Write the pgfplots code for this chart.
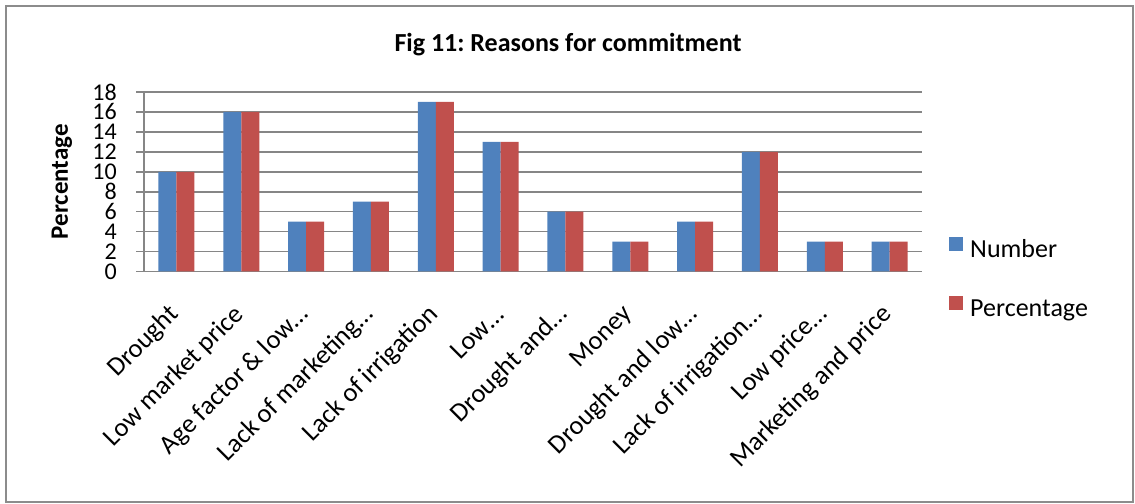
\documentclass[border=0pt]{standalone}
\usepackage{fontspec}
\setmainfont{Carlito}
\usepackage{pgfplots}
\pgfplotsset{compat=1.18}

\definecolor{numBlue}{HTML}{4F81BD}
\definecolor{pctRed}{HTML}{C0504D}
\definecolor{gridGray}{HTML}{868686}
\definecolor{frameGray}{HTML}{8C8C8C}

\newcommand{\fsz}[1]{\fontsize{#1bp}{1.2\dimexpr #1bp\relax}\selectfont}
\frenchspacing

\begin{document}
\begin{tikzpicture}[x=1bp,y=1bp]
  \path[use as bounding box] (0,0) rectangle (1135,504);
  \draw[frameGray, line width=2bp] (6,1.5) rectangle (1133,498);
  \node[font=\fsz{26}\bfseries] at (568,459) {Fig 11: Reasons for commitment};

  \begin{axis}[
    at={(144bp,232.5bp)}, anchor=south west,
    scale only axis, width=778bp, height=179.5bp,
    ybar=0pt, bar width=18bp,
    xmin=-0.5, xmax=11.5, ymin=0, ymax=18,
    ytick={0,2,...,18},
    xtick=data,
    xticklabels={Drought, Low market price, Age factor \& low…, Lack of marketing…,
      Lack of irrigation, Low…, Drought and…, Money, Drought and low…,
      Lack of irrigation…, Low price…, Marketing and price},
    axis lines*=left,
    axis line style={gridGray, line width=1.6bp},
    ymajorgrids, grid style={gridGray, line width=1.6bp},
    major tick length=8bp,
    ytick style={gridGray, line width=1.6bp},
    tick align=outside,
    x tick style={draw=none},
    /pgf/number format/assume math mode=true,
    yticklabel style={font=\fsz{24}, inner sep=0pt, anchor=east, xshift=-19bp},
    xticklabel style={font=\fsz{26.5}, inner sep=0pt, rotate=45, anchor=east,
      xshift=-23bp, yshift=-21bp},
    ylabel={Percentage},
    every axis y label/.style={at={(axis description cs:-0.1054,0.5)},
      rotate=90, anchor=center, font=\fsz{25}\bfseries},
    legend style={draw=none, fill=none, inner sep=0pt,
      at={(axis description cs:1.0347,-0.045)}, anchor=west,
      font=\fsz{26}, row sep=33bp, column sep=7bp,
      nodes={inner sep=0pt, text height=18bp, text depth=6bp}},
    legend image code/.code={\fill[#1] (0bp,0bp) rectangle (14bp,14bp);},
    legend cell align=left,
  ]
    % number of respondents per reason
    \addplot[fill=numBlue, draw=none] coordinates {
      (0,10) (1,16) (2,5) (3,7) (4,17) (5,13)
      (6,6) (7,3) (8,5) (9,12) (10,3) (11,3)};
    % share of respondents per reason
    \addplot[fill=pctRed, draw=none] coordinates {
      (0,10) (1,16) (2,5) (3,7) (4,17) (5,13)
      (6,6) (7,3) (8,5) (9,12) (10,3) (11,3)};
    \legend{Number, Percentage}
  \end{axis}
\end{tikzpicture}
\end{document}
